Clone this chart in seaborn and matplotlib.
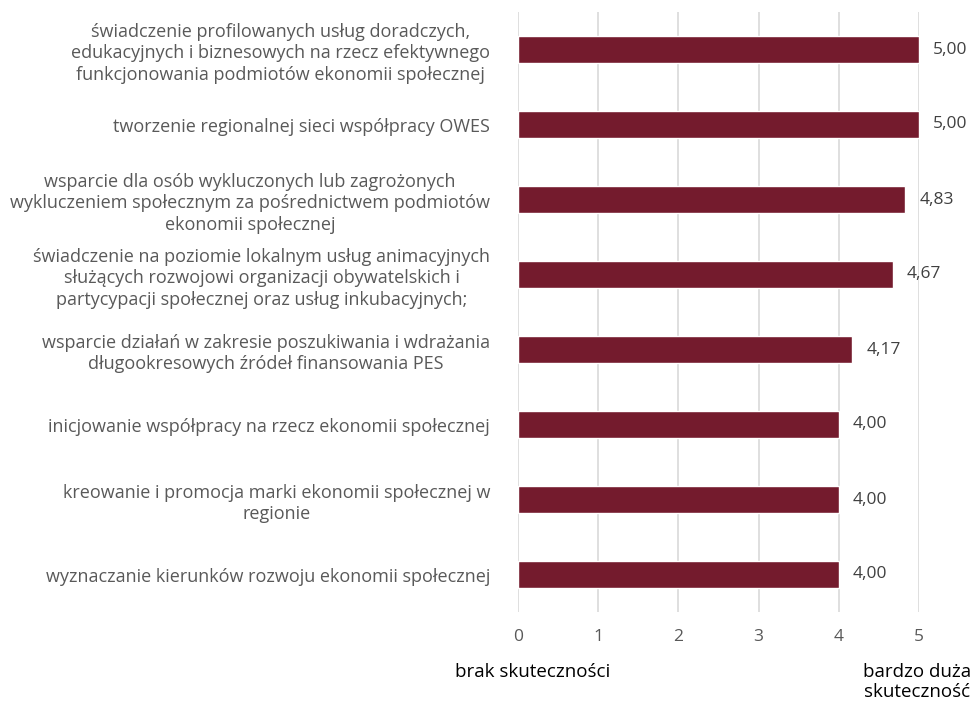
import matplotlib
matplotlib.use("Agg")
import matplotlib.pyplot as plt
import seaborn as sns
import pandas as pd

categories = [
    "świadczenie profilowanych usług doradczych,\nedukacyjnych i biznesowych na rzecz efektywnego\nfunkcjonowania podmiotów ekonomii społecznej",
    "tworzenie regionalnej sieci współpracy OWES",
    "wsparcie dla osób wykluczonych lub zagrożonych\nwykluczeniem społecznym za pośrednictwem podmiotów\nekonomii społecznej",
    "świadczenie na poziomie lokalnym usług animacyjnych\nsłużących rozwojowi organizacji obywatelskich i\npartycypacji społecznej oraz usług inkubacyjnych;",
    "wsparcie działań w zakresie poszukiwania i wdrażania\ndługookresowych źródeł finansowania PES",
    "inicjowanie współpracy na rzecz ekonomii społecznej",
    "kreowanie i promocja marki ekonomii społecznej w\nregionie",
    "wyznaczanie kierunków rozwoju ekonomii społecznej",
]
values = [5.00, 5.00, 4.83, 4.67, 4.17, 4.00, 4.00, 4.00]
value_labels = ["5,00", "5,00", "4,83", "4,67", "4,17", "4,00", "4,00", "4,00"]
x_ticks = [0, 1, 2, 3, 4, 5]
scale_low = "brak skuteczności"
scale_high = "bardzo duża\nskuteczność"

sns.set_theme(style="white")
plt.rcParams["font.family"] = ["Open Sans", "DejaVu Sans"]

df = pd.DataFrame({"cat": categories, "val": values})

fig = plt.figure(figsize=(9.75, 7.02), dpi=100)
ax = fig.add_axes([518 / 975, 1 - 612 / 702, (919 - 518) / 975, 600 / 702])

sns.barplot(data=df, x="val", y="cat", orient="h", color="#741B2D",
            saturation=1, width=0.35, ax=ax, zorder=3)

ax.set_xlim(0, 5)
ax.set_xticks(x_ticks)
ax.set_xticklabels([str(t) for t in x_ticks])
ax.xaxis.grid(True, color="#D9D9D9", linewidth=1.2, zorder=0)
ax.set_axisbelow(True)
for s in ax.spines.values():
    s.set_visible(False)
ax.set_xlabel("")
ax.set_ylabel("")
ax.tick_params(axis="x", length=0, pad=12, labelsize=12.5, labelcolor="#595959")
ax.tick_params(axis="y", length=0, pad=20, labelsize=13, labelcolor="#595959")
for lbl in ax.get_yticklabels():
    lbl.set_multialignment("center")
    lbl.set_linespacing(1.25)

for i, (v, t) in enumerate(zip(values, value_labels)):
    ax.annotate(t, xy=(v, i), xytext=(10, 0), textcoords="offset points",
                va="center", ha="left", fontsize=12.5, color="#404040",
                annotation_clip=False)

fig.text(533 / 975, 1 - 672 / 702, scale_low, ha="center", va="center",
         fontsize=13.5, color="#000000")
fig.text(917 / 975, 1 - 682 / 702, scale_high, ha="center", va="center",
         fontsize=13.5, color="#000000", multialignment="center", linespacing=1.1)

fig.savefig("out.png", dpi=100)
